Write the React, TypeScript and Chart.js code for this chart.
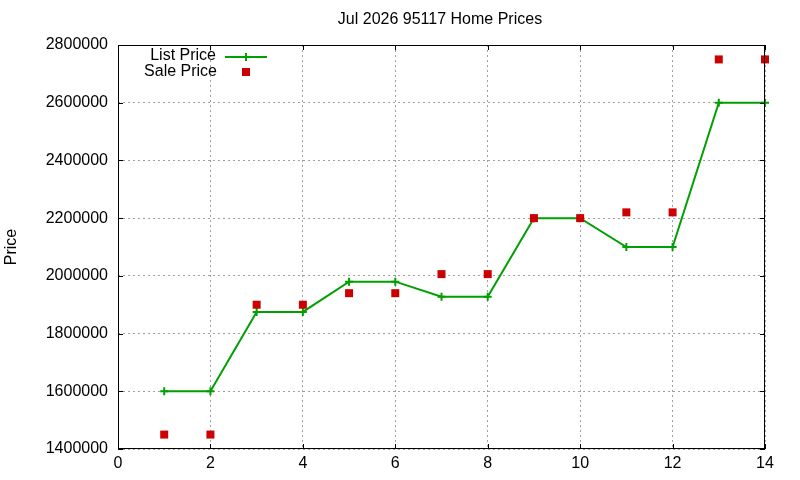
import { useEffect, useRef } from "react";
import { Chart, registerables } from "chart.js";

Chart.register(...registerables);

const TITLE = "Jul 2026 95117 Home Prices";
const Y_LABEL = "Price";
const months = [1, 2, 3, 4, 5, 6, 7, 8, 9, 10, 11, 12, 13, 14];
const listPrice = [
  1600000, 1600000, 1875000, 1875000, 1980000, 1980000, 1928000, 1928000,
  2200000, 2200000, 2100000, 2100000, 2600000, 2600000,
];
const salePrice = [
  1450000, 1450000, 1900000, 1900000, 1940000, 1940000, 2006000, 2006000,
  2200000, 2200000, 2220000, 2220000, 2750000, 2750000,
];
const legendLabels = ["List Price", "Sale Price"];

const FONT = "16px 'Liberation Sans', Arial, sans-serif";
const GREEN = "#00a000";
const RED = "#cc0000";

// gnuplot-like frame: title, y label, border box, inward ticks, key
const gnuplotFrame = {
  id: "gnuplotFrame",
  afterDraw(chart: Chart) {
    const { ctx, chartArea: a, scales } = chart;
    ctx.save();
    ctx.font = FONT;
    ctx.fillStyle = "#000";
    ctx.textBaseline = "middle";

    // title
    ctx.textAlign = "center";
    ctx.fillText(TITLE, 440, 20);

    // y label
    ctx.save();
    ctx.translate(12, 247);
    ctx.rotate(-Math.PI / 2);
    ctx.fillText(Y_LABEL, 0, 0);
    ctx.restore();

    // border
    ctx.strokeStyle = "#000";
    ctx.lineWidth = 1;
    ctx.strokeRect(a.left + 0.5, a.top + 0.5, a.right - a.left - 1, a.bottom - a.top - 1);

    // inward ticks, mirrored
    const t = 5;
    ctx.beginPath();
    scales.x.ticks.forEach((tk) => {
      const px = Math.round(scales.x.getPixelForValue(tk.value)) + 0.5;
      ctx.moveTo(px, a.bottom);
      ctx.lineTo(px, a.bottom - t);
      ctx.moveTo(px, a.top);
      ctx.lineTo(px, a.top + t);
    });
    scales.y.ticks.forEach((tk) => {
      const py = Math.round(scales.y.getPixelForValue(tk.value)) + 0.5;
      ctx.moveTo(a.left, py);
      ctx.lineTo(a.left + t, py);
      ctx.moveTo(a.right, py);
      ctx.lineTo(a.right - t, py);
    });
    ctx.stroke();

    // key
    ctx.textAlign = "right";
    ctx.fillText(legendLabels[0], 216, 56);
    ctx.fillText(legendLabels[1], 217, 72);
    ctx.strokeStyle = GREEN;
    ctx.lineWidth = 2;
    ctx.beginPath();
    ctx.moveTo(225, 57);
    ctx.lineTo(267, 57);
    ctx.moveTo(246, 53);
    ctx.lineTo(246, 61);
    ctx.stroke();
    ctx.fillStyle = RED;
    ctx.fillRect(242, 68, 8, 8);
    ctx.restore();
  },
};

export default function App() {
  const chartRef = useRef<HTMLCanvasElement>(null);
  const chartInstance = useRef<Chart | null>(null);

  useEffect(() => {
    document.body.style.margin = "0";
    if (!chartRef.current) return;
    const ctx = chartRef.current.getContext("2d");
    if (!ctx) return;

    chartInstance.current = new Chart(ctx, {
      type: "line",
      data: {
        datasets: [
          {
            label: legendLabels[0],
            data: months.map((m, i) => ({ x: m, y: listPrice[i] })),
            borderColor: GREEN,
            backgroundColor: GREEN,
            borderWidth: 2,
            tension: 0,
            pointStyle: "cross",
            pointRadius: 4,
            pointBorderWidth: 2,
            clip: false,
            order: 2,
          },
          {
            type: "scatter",
            label: legendLabels[1],
            data: months.map((m, i) => ({ x: m, y: salePrice[i] })),
            borderColor: RED,
            backgroundColor: RED,
            pointStyle: "rect",
            pointRadius: 5.66,
            pointBorderWidth: 0,
            showLine: false,
            clip: false,
            order: 1,
          },
        ],
      },
      options: {
        responsive: false,
        animation: false,
        layout: { padding: { left: 0, right: 35, top: 45, bottom: 0 } },
        plugins: {
          legend: { display: false },
          tooltip: { enabled: false },
          title: { display: false },
        },
        scales: {
          x: {
            type: "linear",
            min: 0,
            max: 14,
            afterFit: (s: any) => {
              s.height = 31;
            },
            ticks: {
              stepSize: 2,
              padding: 5,
              color: "#000",
              font: { family: "'Liberation Sans', Arial, sans-serif", size: 16 },
            },
            grid: { color: "#a0a0a0", drawTicks: false, lineWidth: 1 },
            border: { display: false, dash: [2, 3] },
          },
          y: {
            min: 1400000,
            max: 2800000,
            afterFit: (s: any) => {
              s.width = 118;
            },
            ticks: {
              stepSize: 200000,
              padding: 10,
              color: "#000",
              callback: (v: any) => String(v),
              font: { family: "'Liberation Sans', Arial, sans-serif", size: 16 },
            },
            grid: { color: "#a0a0a0", drawTicks: false, lineWidth: 1 },
            border: { display: false, dash: [2, 3] },
          },
        },
      },
      plugins: [gnuplotFrame],
    });

    return () => {
      if (chartInstance.current) {
        chartInstance.current.destroy();
        chartInstance.current = null;
      }
    };
  }, []);

  return (
    <div style={{ width: 800, height: 480, background: "#fff" }}>
      <canvas ref={chartRef} width={800} height={480}></canvas>
    </div>
  );
}
